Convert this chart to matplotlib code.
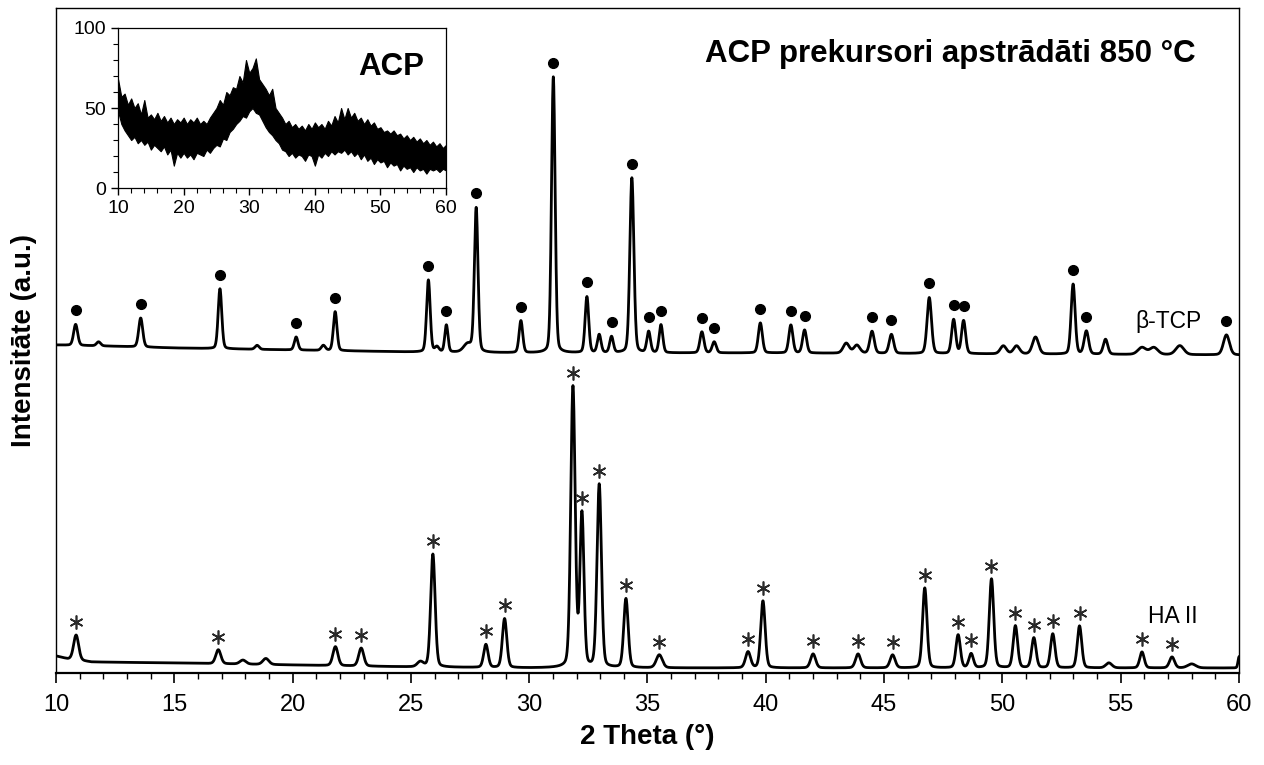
import numpy as np
import matplotlib
matplotlib.use("Agg")
from matplotlib import pyplot as plt
from matplotlib.ticker import MultipleLocator

plt.rcParams['font.family'] = ['Liberation Sans', 'DejaVu Sans']

# beta-TCP trace (offset upwards): peak position, height above baseline, FWHM
tcp_pos = [10.83, 11.8, 13.58, 16.93, 18.5, 20.15, 21.3, 21.8, 25.74, 26.1, 26.5, 27.4, 27.76, 29.65,
           31.02, 32.44, 32.96, 33.48, 34.34, 35.05, 35.57, 37.3, 37.82, 39.77, 41.06, 41.64,
           43.4, 43.85, 44.49, 45.31, 46.91, 47.94, 48.36, 50.04, 50.6, 51.4, 52.99, 53.55,
           54.36, 55.9, 56.4, 57.5, 59.47]
tcp_height = [21, 4, 29, 60, 4, 13, 5, 39, 72, 5, 27, 8, 144, 32,
              276, 56, 18, 16, 175, 21, 28, 21, 11, 30, 28, 23,
              10, 8, 22, 19, 56, 34, 33, 8, 8, 17, 70, 23,
              15, 7, 7, 9, 20]
tcp_width = [0.2, 0.2, 0.2, 0.18, 0.2, 0.18, 0.2, 0.18, 0.18, 0.2, 0.16, 0.4, 0.18, 0.18,
             0.18, 0.18, 0.18, 0.18, 0.2, 0.18, 0.18, 0.2, 0.2, 0.2, 0.2, 0.2,
             0.3, 0.3, 0.22, 0.22, 0.22, 0.2, 0.2, 0.3, 0.3, 0.3, 0.2, 0.22,
             0.22, 0.4, 0.4, 0.4, 0.3]
tcp_base_x = [10, 12, 15, 20, 25, 30, 40, 50, 60]
tcp_base_y = [328, 327, 325, 323, 321, 320, 320, 319, 318]
tcp_marked = [10.83, 13.58, 16.93, 20.15, 21.8, 25.74, 26.5, 27.76, 29.65, 31.02, 32.44, 33.48,
              34.34, 35.05, 35.57, 37.3, 37.82, 39.77, 41.06, 41.64, 44.49, 45.31, 46.91,
              47.94, 48.36, 52.99, 53.55, 59.47]

# HA II trace (bottom)
ha_pos = [10.85, 16.86, 17.9, 18.87, 21.81, 22.9, 25.4, 25.93, 28.17, 28.96, 31.85, 32.23,
          32.96, 34.09, 35.5, 39.25, 39.88, 42.0, 43.9, 45.36, 46.72, 48.13, 48.68, 49.54,
          50.55, 51.33, 52.13, 53.26, 54.5, 55.9, 57.17, 58.0, 60.0]
ha_height = [25, 14, 4, 6, 19, 18, 5, 113, 23, 49, 280, 152,
             183, 69, 13, 16, 67, 14, 14, 13, 80, 33, 14, 89,
             42, 30, 34, 42, 5, 16, 11, 4, 11]
ha_width = [0.25, 0.25, 0.3, 0.3, 0.25, 0.25, 0.3, 0.22, 0.22, 0.22, 0.22, 0.2,
            0.22, 0.22, 0.3, 0.25, 0.22, 0.25, 0.25, 0.25, 0.22, 0.22, 0.22, 0.22,
            0.22, 0.22, 0.22, 0.22, 0.3, 0.22, 0.25, 0.4, 0.1]
ha_base_x = [10, 10.5, 11.5, 15, 20, 25, 30, 60]
ha_base_y = [17, 14, 11, 10, 8, 6, 5, 5]
ha_marked = [10.85, 16.86, 21.81, 22.9, 25.93, 28.17, 28.96, 31.85, 32.23, 32.96, 34.09, 35.5,
             39.25, 39.88, 42.0, 43.9, 45.36, 46.72, 48.13, 48.68, 49.54, 50.55, 51.33, 52.13,
             53.26, 55.9, 57.17]

# ACP inset: noisy band, read as upper / lower envelope every 0.5 deg
acp_x = list(np.arange(10, 60.01, 0.5))
acp_upper = [68, 57, 59, 52, 56, 50, 53, 46, 55, 44, 46, 43, 47, 42, 45, 41, 44, 40, 43, 41,
             44, 40, 43, 41, 44, 40, 42, 40, 44, 47, 50, 55, 52, 60, 58, 63, 62, 70, 66, 80,
             72, 75, 81, 68, 65, 62, 58, 62, 50, 47, 44, 40, 42, 38, 40, 37, 39, 36, 40, 37,
             41, 38, 40, 37, 42, 39, 45, 41, 50, 43, 50, 44, 47, 42, 44, 40, 43, 39, 41, 37,
             38, 35, 36, 34, 36, 33, 34, 31, 33, 30, 32, 29, 31, 28, 30, 27, 29, 26, 28, 25, 27]
acp_lower = [48, 40, 36, 33, 30, 32, 28, 30, 27, 29, 24, 27, 25, 23, 26, 21, 24, 14, 22, 19,
             22, 19, 21, 18, 22, 21, 20, 24, 22, 25, 27, 26, 31, 30, 35, 37, 40, 42, 45, 44,
             48, 50, 47, 46, 42, 38, 35, 33, 30, 28, 24, 23, 20, 22, 19, 21, 20, 17, 21, 20,
             14, 21, 19, 22, 20, 23, 21, 23, 22, 24, 21, 23, 20, 22, 18, 21, 17, 19, 15, 18,
             16, 17, 13, 16, 14, 15, 11, 14, 12, 13, 10, 13, 11, 12, 9, 12, 11, 12, 10, 12, 11]


def profile(x, pos, height, width, bx, by):
    y = np.interp(x, bx, by).astype(float)
    for p, h, w in zip(pos, height, width):
        g = np.exp(-4 * np.log(2) * ((x - p) / w) ** 2)
        l = 1 / (1 + 4 * ((x - p) / w) ** 2)
        y += h * (0.8 * g + 0.2 * l)
    return y


x = np.arange(10, 60.0001, 0.01)
y_tcp = profile(x, tcp_pos, tcp_height, tcp_width, tcp_base_x, tcp_base_y)
y_ha = profile(x, ha_pos, ha_height, ha_width, ha_base_x, ha_base_y)

fig = plt.figure(figsize=(12.64, 7.65), dpi=100)
ax = fig.add_axes([0.0443, 0.1203, 0.9359, 0.8693])

ax.plot(x, y_tcp, color='black', lw=2.0)
ax.plot(x, y_ha, color='black', lw=2.0)

# markers above peaks
tcp_mx = np.array(tcp_marked)
ax.plot(tcp_mx, np.interp(tcp_mx, x, y_tcp) + 14, 'o', color='black', ms=7, ls='none')
ha_mx = np.array(ha_marked)
ax.plot(ha_mx, np.interp(ha_mx, x, y_ha) + 13, ls='none', marker=(6, 2, 0),
        ms=10, mew=1.2, color='#2a2a2a')

ax.set_xlim(10, 60)
ax.set_ylim(0, 665)
ax.set_yticks([])
ax.xaxis.set_major_locator(MultipleLocator(5))
ax.xaxis.set_minor_locator(MultipleLocator(1))
ax.tick_params(axis='x', which='major', direction='out', length=7, width=1.2, labelsize=17, pad=8)
ax.tick_params(axis='x', which='minor', direction='out', length=4.5, width=1.0)
for s in ax.spines.values():
    s.set_linewidth(1.0)
ax.spines['bottom'].set_linewidth(1.6)

ax.set_xlabel('2 Theta (°)', fontsize=20, fontweight='bold', labelpad=6)
ax.set_ylabel('Intensitāte (a.u.)', fontsize=20, fontweight='bold', labelpad=14)

fig.text(0.5578, 0.919, 'ACP prekursori apstrādāti 850 °C', fontsize=22.5, fontweight='bold',
         ha='left', va='baseline')
fig.text(0.898, 0.571, 'β-TCP', fontsize=16.5, ha='left', va='baseline')
fig.text(0.9085, 0.1856, 'HA II', fontsize=16.5, ha='left', va='baseline')

# inset
ins = fig.add_axes([0.0934, 0.7542, 0.2595, 0.2092])
ins.fill_between(acp_x, acp_lower, acp_upper, color='black', lw=0.8)
ins.set_xlim(10, 60)
ins.set_ylim(0, 100)
ins.set_yticks([0, 50, 100])
ins.set_xticks([10, 20, 30, 40, 50, 60])
ins.xaxis.set_minor_locator(MultipleLocator(2))
ins.yaxis.set_minor_locator(MultipleLocator(10))
ins.tick_params(which='major', direction='out', length=5, width=1.0, labelsize=14)
ins.tick_params(which='minor', direction='out', length=3.5, width=0.8)
for s in ins.spines.values():
    s.set_linewidth(0.9)
fig.text(0.2832, 0.902, 'ACP', fontsize=22.5, fontweight='bold', ha='left', va='baseline')

fig.savefig('out.png', dpi=100)
